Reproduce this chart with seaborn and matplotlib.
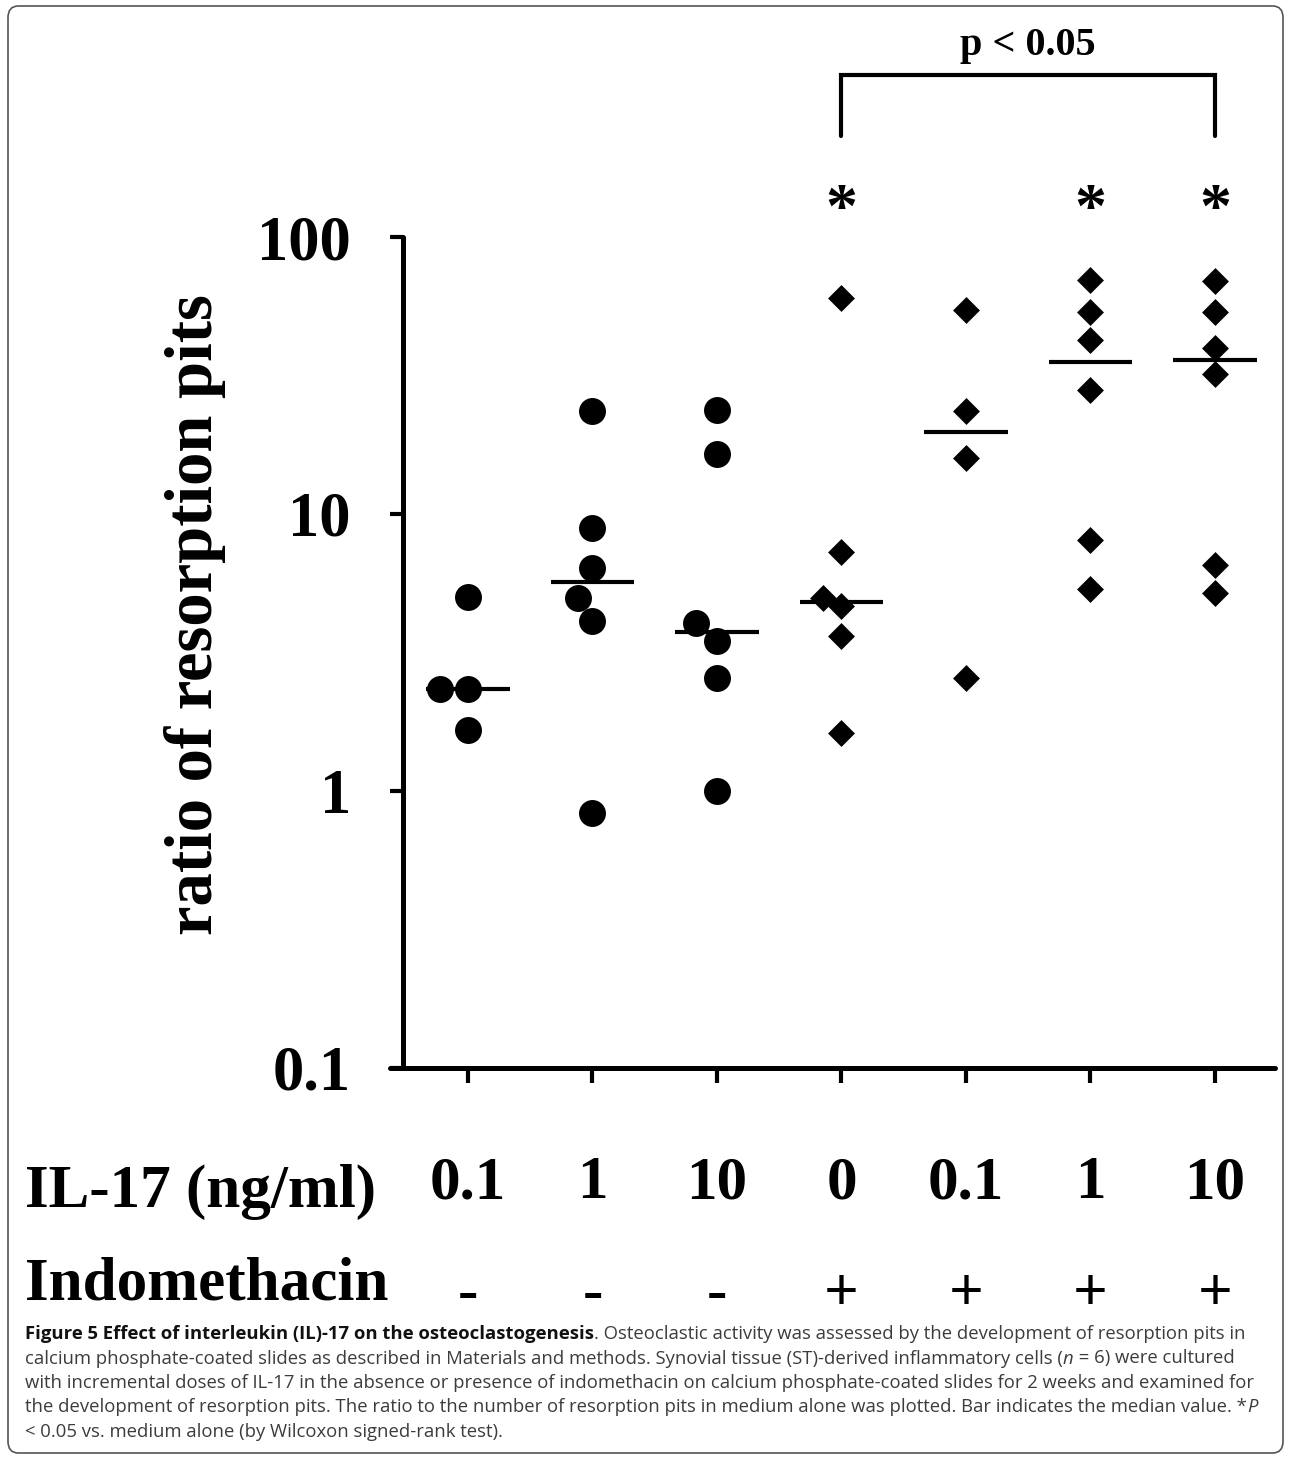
#!/usr/bin/env python3
"""
Figure 5: ratio of resorption pits per IL-17 dose, with and without indomethacin.
Dots / diamonds are single cultures, bars are medians. Saves out.png.
"""

import pandas as pd
import matplotlib
matplotlib.use("Agg")
import matplotlib.pyplot as plt
import seaborn as sns
from matplotlib.patches import FancyBboxPatch
from matplotlib.ticker import NullLocator

# === DATA ===

IL17_DOSE = ["0.1", "1", "10", "0", "0.1", "1", "10"]
INDOMETHACIN = ["-", "-", "-", "+", "+", "+", "+"]
STARRED = [False, False, False, True, False, True, True]

RATIO_01_NO = [5.0, 2.33, 2.33, 1.66]
RATIO_1_NO = [23.5, 8.9, 6.38, 4.97, 4.11, 0.83]
RATIO_10_NO = [23.7, 16.5, 4.04, 3.48, 2.56, 1.0]
RATIO_0_INDO = [60.2, 7.29, 4.97, 4.66, 3.63, 1.62]
RATIO_01_INDO = [54.5, 23.5, 15.9, 2.56]
RATIO_1_INDO = [70.0, 53.6, 42.5, 28.0, 8.05, 5.36]
RATIO_10_INDO = [69.4, 53.6, 39.7, 32.0, 6.55, 5.19]

RATIOS = [RATIO_01_NO, RATIO_1_NO, RATIO_10_NO, RATIO_0_INDO,
          RATIO_01_INDO, RATIO_1_INDO, RATIO_10_INDO]

Y_TICKS = [0.1, 1, 10, 100]
Y_TICK_LABELS = ["0.1", "1", "10", "100"]

CAPTION = [
    [("Figure 5 Effect of interleukin (IL)-17 on the osteoclastogenesis", "bold", "normal"),
     (". Osteoclastic activity was assessed by the development of resorption pits in", "normal", "normal")],
    [("calcium phosphate-coated slides as described in Materials and methods. Synovial tissue (ST)-derived inflammatory cells (", "normal", "normal"),
     ("n", "normal", "italic"),
     (" = 6) were cultured", "normal", "normal")],
    [("with incremental doses of IL-17 in the absence or presence of indomethacin on calcium phosphate-coated slides for 2 weeks and examined for", "normal", "normal")],
    [("the development of resorption pits. The ratio to the number of resorption pits in medium alone was plotted. Bar indicates the median value. *", "normal", "normal"),
     ("P", "normal", "italic")],
    [("< 0.05 vs. medium alone (by Wilcoxon signed-rank test).", "normal", "normal")],
]

# === STYLE ===

sns.set_theme(style="ticks")
plt.rcParams["font.family"] = ["Liberation Serif", "DejaVu Serif"]
plt.rcParams["font.weight"] = "bold"
plt.rcParams.update({
    "axes.edgecolor": "black",
    "xtick.color": "black",
    "ytick.color": "black",
    "text.color": "black",
    "axes.labelcolor": "black",
})

W, H = 1290, 1459
SERIF = dict(family=["Liberation Serif", "DejaVu Serif"], weight="bold", color="black")


def build_frame():
    groups = [f"{d}{s}" for d, s in zip(IL17_DOSE, INDOMETHACIN)]
    rows = []
    for g, sign, vals in zip(groups, INDOMETHACIN, RATIOS):
        for v in vals:
            rows.append({"group": g, "indo": sign, "ratio": v})
    return groups, pd.DataFrame(rows)


def main():
    groups, df = build_frame()

    fig = plt.figure(figsize=(W / 100, H / 100), dpi=100)
    ax = fig.add_axes([403 / W, 391 / H, 872 / W, 831 / H])

    sns.swarmplot(data=df[df["indo"] == "-"], x="group", y="ratio", order=groups,
                  color="black", marker="o", size=19.4, linewidth=0, ax=ax)
    sns.swarmplot(data=df[df["indo"] == "+"], x="group", y="ratio", order=groups,
                  color="black", marker="D", size=13.7, linewidth=0, ax=ax)

    # median bars only
    sns.boxplot(data=df, x="group", y="ratio", order=groups, width=0.67,
                showbox=False, showcaps=False, showfliers=False,
                whiskerprops={"visible": False},
                medianprops={"color": "black", "linewidth": 3, "solid_capstyle": "butt"},
                ax=ax)

    ax.set_yscale("log")
    ax.set_ylim(0.1, 100)
    ax.set_xlim(-0.522, 6.482)
    ax.set_yticks(Y_TICKS)
    ax.set_yticklabels(Y_TICK_LABELS)
    ax.yaxis.set_minor_locator(NullLocator())
    ax.set_xticks(range(len(IL17_DOSE)))
    ax.set_xticklabels(IL17_DOSE)
    ax.set_xlabel("")
    ax.set_ylabel("")

    for side in ["top", "right"]:
        ax.spines[side].set_visible(False)
    for side in ["left", "bottom"]:
        ax.spines[side].set_linewidth(3.6)
        ax.spines[side].set_capstyle("round")
        ax.spines[side].set_color("black")
    ax.spines["bottom"].set_bounds(-0.63, 6.482)

    ax.tick_params(axis="y", direction="out", length=9.5, width=3, pad=28,
                   labelsize=45, colors="black")
    ax.tick_params(axis="x", direction="out", length=11, width=3, pad=52,
                   labelsize=44, colors="black")
    for lab in ax.get_yticklabels() + ax.get_xticklabels():
        lab.set_fontweight("bold")

    # indomethacin row
    xt = ax.get_xaxis_transform()
    for i, s in enumerate(INDOMETHACIN):
        ax.text(i, -0.273, s, transform=xt, ha="center", va="center",
                fontsize=44, clip_on=False, **SERIF)

    # significance marks
    for i, star in enumerate(STARRED):
        if star:
            ax.text(i, 1.030, "*", transform=xt, ha="center", va="center",
                    fontsize=46, clip_on=False, **SERIF)
    left = STARRED.index(True)
    right = len(STARRED) - 1
    ax.plot([left, left, right, right], [1.1215, 1.195, 1.195, 1.1215],
            transform=xt, color="black", lw=3, clip_on=False,
            solid_capstyle="round", solid_joinstyle="miter")
    ax.text((left + right) / 2, 1.231, "p < 0.05", transform=xt,
            ha="center", va="center", fontsize=29, clip_on=False, **SERIF)

    # axis titles
    fig.text(195 / W, 1 - 615 / H, "ratio of resorption pits", rotation=90,
             ha="center", va="center", fontsize=48, **SERIF)
    fig.text(25 / W, 1 - 1207 / H, "IL-17 (ng/ml)", ha="left", va="baseline",
             fontsize=44, **SERIF)
    fig.text(25 / W, 1 - 1300 / H, "Indomethacin", ha="left", va="baseline",
             fontsize=44, **SERIF)

    # caption
    renderer = fig.canvas.get_renderer()
    for k, runs in enumerate(CAPTION):
        x = 25 / W
        y = 1 - (1339 + 24.5 * k) / H
        for txt, weight, style in runs:
            color = "#111111" if weight == "bold" else "#3c3c3c"
            t = fig.text(x, y, txt, ha="left", va="baseline", fontsize=13.3,
                         family=["Open Sans", "DejaVu Sans"], weight=weight,
                         style=style, color=color)
            bb = t.get_window_extent(renderer)
            x = bb.x1 / W

    # rounded frame around the whole figure
    frame = FancyBboxPatch((8 / W, 6 / H), 1275 / W, 1447 / H,
                           boxstyle="round,pad=0,rounding_size=0.008",
                           transform=fig.transFigure, facecolor="none",
                           edgecolor="#555555", linewidth=1.2)
    fig.patches.append(frame)

    fig.savefig("out.png", dpi=100)
    plt.close(fig)


if __name__ == "__main__":
    main()
